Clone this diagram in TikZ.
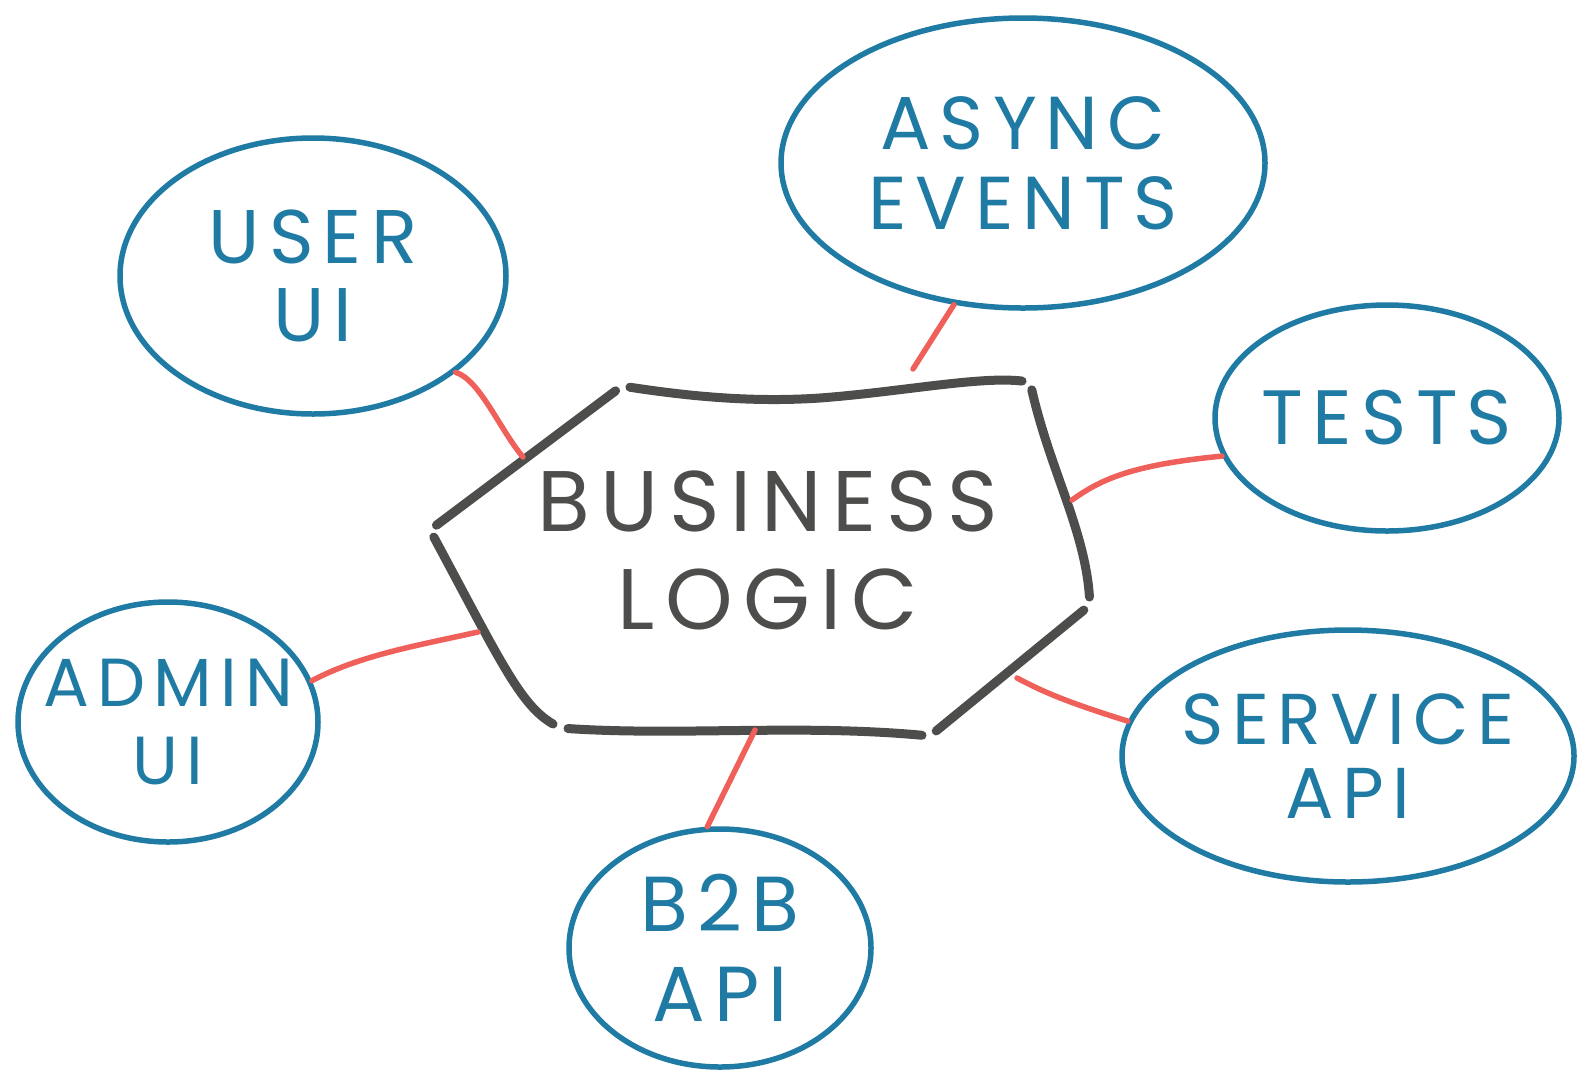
\documentclass[tikz,border=0pt]{standalone}
\usepackage{fontspec}
\newfontfamily\hand[LetterSpace=12]{Poppins}
\usetikzlibrary{shapes.geometric}

\definecolor{inkblue}{HTML}{1F7BA3}
\definecolor{inkgray}{HTML}{4D4D4B}
\definecolor{inkred}{HTML}{F0605A}

\tikzset{
  bubble/.style={ellipse,draw=inkblue,line width=5.5pt,text=inkblue,
    inner sep=-40pt,align=center},
  txt/.style 2 args={font=\hand\fontsize{#1}{#2}\selectfont},
  side/.style={draw=inkgray,line width=9pt,line cap=round,
    shorten <=8pt,shorten >=8pt},
  link/.style={draw=inkred,line width=5.5pt,line cap=round}
}

\begin{document}
\begin{tikzpicture}[x=1pt,y=-1pt]
\useasboundingbox (0,0) rectangle (1594,1085);

% hexagon corners
\coordinate (TL) at (622,386);
\coordinate (TR) at (1030,382);
\coordinate (R) at (1090,605);
\coordinate (BR) at (930,736);
\coordinate (BL) at (560,728);
\coordinate (L) at (430,530);

\draw[side] (TL) .. controls (700,398) and (760,402) .. (820,398)
  .. controls (900,392) and (980,376) .. (TR);
\draw[side] (TR) .. controls (1050,470) and (1085,530) .. (R);
\draw[side] (R) -- (BR);
\draw[side] (BR) .. controls (800,724) and (680,736) .. (BL);
\draw[side] (BL) .. controls (520,705) and (500,660) .. (L);
\draw[side] (L) -- (TL);

\node[text=inkgray,align=center,txt={86}{98}]
  (logic) at (768,550) {BUSINESS\\LOGIC};

% outer bubbles
\node[bubble,txt={76}{78},minimum width=386pt,minimum height=276pt] (user) at (313,276) {USER\\UI};
\node[bubble,txt={75}{80},minimum width=484pt,minimum height=290pt] (async) at (1023,163) {ASYNC\\EVENTS};
\node[bubble,txt={77}{77},minimum width=344pt,minimum height=226pt] (tests) at (1387,418) {TESTS};
\node[bubble,txt={72}{74},minimum width=452pt,minimum height=252pt] (service) at (1348,756) {SERVICE\\API};
\node[bubble,txt={78}{90},minimum width=302pt,minimum height=238pt] (b2b) at (720,948) {B2B\\API};
\node[bubble,txt={68}{78},minimum width=300pt,minimum height=240pt] (admin) at (168,722) {ADMIN\\UI};

% where the links meet the hexagon
\coordinate (hu) at (523,457);
\coordinate (ha) at (913,369);
\coordinate (ht) at (1072,500);
\coordinate (hs) at (1017,678);
\coordinate (hb) at (755,730);
\coordinate (hm) at (478,632);

\draw[link] (user.-34) .. controls (480,380) and (500,430) .. (hu);
\draw[link] (async.-116) -- (ha);
\draw[link] (tests.-167) .. controls (1130,465) and (1100,480) .. (ht);
\draw[link] (service.171) .. controls (1060,700) and (1040,690) .. (hs);
\draw[link] (b2b.96) -- (hb);
\draw[link] (admin.16) .. controls (360,655) and (420,645) .. (hm);

\end{tikzpicture}
\end{document}
